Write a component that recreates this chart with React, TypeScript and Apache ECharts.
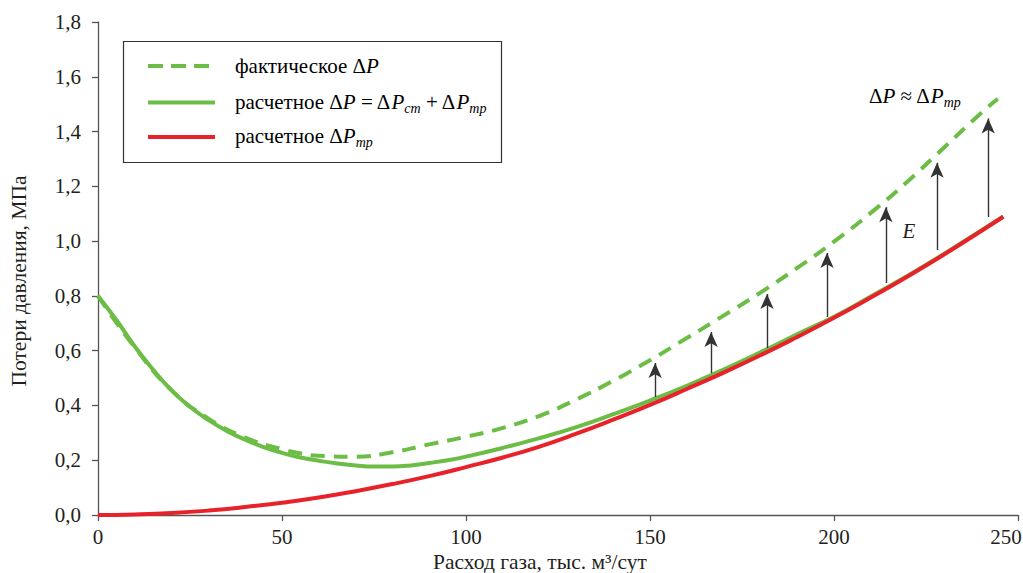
import React, { useEffect, useRef } from "react";
import * as echarts from "echarts";

// Расход газа, тыс. м3/сут (x) and pressure loss values, МПа (y)
const qActual = [0, 10, 20, 30, 40, 50, 55, 60, 70, 80, 90, 100, 110, 120, 130, 140, 150, 160, 170, 180, 190, 200, 210, 220, 230, 240, 244.5];
const actualDP = [0.8, 0.612, 0.455, 0.352, 0.283, 0.24, 0.225, 0.216, 0.213, 0.229, 0.258, 0.286, 0.318, 0.362, 0.422, 0.49, 0.565, 0.646, 0.728, 0.812, 0.902, 0.998, 1.103, 1.218, 1.343, 1.468, 1.52];

const qCalc = [0, 5, 10, 15, 20, 25, 30, 35, 40, 45, 50, 55, 60, 65, 70, 75, 80, 85, 90, 95, 100, 110, 120, 130, 140, 150, 160, 170, 180, 190, 200, 210, 220, 230, 240, 246];
const calcDP = [0.8, 0.712, 0.615, 0.53, 0.455, 0.395, 0.347, 0.307, 0.275, 0.248, 0.227, 0.21, 0.198, 0.188, 0.181, 0.177, 0.177, 0.181, 0.19, 0.2, 0.213, 0.245, 0.281, 0.321, 0.368, 0.418, 0.472, 0.531, 0.594, 0.66, 0.724, 0.798, 0.874, 0.954, 1.039, 1.09];

const qFric = [0, 10, 20, 30, 40, 50, 60, 70, 80, 90, 100, 110, 120, 130, 140, 150, 160, 170, 180, 190, 200, 210, 220, 230, 240, 246];
const fricDP = [0.0, 0.002, 0.007, 0.016, 0.029, 0.045, 0.064, 0.087, 0.113, 0.142, 0.175, 0.21, 0.25, 0.297, 0.348, 0.402, 0.46, 0.52, 0.583, 0.65, 0.72, 0.794, 0.871, 0.952, 1.037, 1.089];

// Arrows (E): x position, start value, tip value
const arrowQ = [151.4, 166.6, 181.8, 198.1, 214.1, 228, 241.9];
const arrowFrom = [0.431, 0.518, 0.61, 0.723, 0.847, 0.967, 1.088];
const arrowTo = [0.555, 0.668, 0.807, 0.957, 1.124, 1.286, 1.448];

const xTicks = { min: 0, max: 250, interval: 50 };
const yTicks = { min: 0, max: 1.8, interval: 0.2 };

const seriesNames = ["фактическое ΔP", "расчетное ΔP = ΔPст + ΔPтр", "расчетное ΔPтр"];

const FONT = "'Liberation Serif', 'Times New Roman', serif";
const GREEN = "#6cbd45";
const RED = "#e8222b";
const INK = "#231f20";

const pairs = (xs: number[], ys: number[]) => xs.map((x, i) => [x, ys[i]]);

export default function App() {
  const ref = useRef<HTMLDivElement>(null);
  useEffect(() => {
    if (!ref.current) return;
    const chart = echarts.init(ref.current, undefined, { renderer: "svg" });
    const richSub = {
      i: { fontStyle: "italic", fontSize: 21, fontFamily: FONT, color: INK, lineHeight: 26 },
      s: { fontStyle: "italic", fontSize: 14, fontFamily: FONT, color: INK, lineHeight: 15, verticalAlign: "bottom" },
      n: { fontSize: 21, fontFamily: FONT, color: INK, lineHeight: 26 },
    };
    chart.setOption({
      animation: false,
      grid: { left: 98, right: 5, top: 22, bottom: 58, containLabel: false, outerBoundsMode: "none" },
      xAxis: {
        type: "value",
        min: xTicks.min,
        max: xTicks.max,
        interval: xTicks.interval,
        splitLine: { show: false },
        axisLine: { lineStyle: { color: "#555", width: 1.3 } },
        axisTick: { length: 6, lineStyle: { color: "#555", width: 1.3 } },
        axisLabel: {
          fontFamily: FONT,
          fontSize: 21,
          color: INK,
          margin: 11,
          hideOverlap: false,
          formatter: (v: number) => (v === xTicks.max ? "{last|" + v + "}" : String(v)),
          rich: { last: { fontFamily: FONT, fontSize: 21, color: INK, padding: [0, 24, 0, 0] } },
        },
      },
      yAxis: {
        type: "value",
        min: yTicks.min,
        max: yTicks.max,
        interval: yTicks.interval,
        splitLine: { show: false },
        axisLine: { show: true, lineStyle: { color: "#555", width: 1.3 } },
        axisTick: { show: true, length: 6, lineStyle: { color: "#555", width: 1.3 } },
        axisLabel: {
          fontFamily: FONT,
          fontSize: 21,
          color: INK,
          margin: 17,
          formatter: (v: number) => v.toFixed(1).replace(".", ","),
        },
      },
      series: [
        {
          name: seriesNames[1],
          type: "line",
          data: pairs(qCalc, calcDP),
          smooth: true,
          showSymbol: false,
          lineStyle: { color: GREEN, width: 4 },
          silent: true,
          z: 2,
        },
        {
          name: seriesNames[0],
          type: "line",
          data: pairs(qActual, actualDP),
          smooth: true,
          showSymbol: false,
          lineStyle: { color: GREEN, width: 4, type: [14, 9] },
          silent: true,
          z: 3,
        },
        {
          name: seriesNames[2],
          type: "line",
          data: pairs(qFric, fricDP),
          smooth: true,
          showSymbol: false,
          lineStyle: { color: RED, width: 4 },
          silent: true,
          z: 4,
          markLine: {
            silent: true,
            symbol: ["none", "arrow"],
            symbolSize: [10, 15],
            label: { show: false },
            lineStyle: { color: "#333", width: 1.4, type: "solid" },
            itemStyle: { color: "#1a1a1a" },
            emphasis: { disabled: true },
            data: arrowQ.map((q, i) => [{ coord: [q, arrowFrom[i]] }, { coord: [q, arrowTo[i]] }]),
          },
        },
      ],
      graphic: [
        {
          type: "rect",
          shape: { x: 123.5, y: 41.5, width: 378, height: 121 },
          style: { fill: "#fff", stroke: "#333", lineWidth: 1.2 },
          z: 10,
        },
        {
          type: "line",
          shape: { x1: 148, y1: 66, x2: 215, y2: 66 },
          style: { stroke: GREEN, lineWidth: 4, lineDash: [15, 8] },
          z: 11,
        },
        {
          type: "line",
          shape: { x1: 148, y1: 102.5, x2: 215, y2: 102.5 },
          style: { stroke: GREEN, lineWidth: 4 },
          z: 11,
        },
        {
          type: "line",
          shape: { x1: 148, y1: 137, x2: 215, y2: 137 },
          style: { stroke: RED, lineWidth: 4 },
          z: 11,
        },
        {
          type: "text",
          x: 235,
          y: 66,
          z: 11,
          style: { text: "{n|фактическое Δ}{i|P}", rich: richSub, verticalAlign: "middle", align: "left" },
        },
        {
          type: "text",
          x: 235,
          y: 102,
          z: 11,
          style: {
            text: "{n|расчетное Δ}{i|P}{n| = Δ}{i|P}{s|ст}{n| + Δ}{i|P}{s|тр}",
            rich: richSub,
            verticalAlign: "middle",
            align: "left",
          },
        },
        {
          type: "text",
          x: 235,
          y: 136,
          z: 11,
          style: { text: "{n|расчетное Δ}{i|P}{s|тр}", rich: richSub, verticalAlign: "middle", align: "left" },
        },
        {
          type: "text",
          x: 869,
          y: 96,
          z: 11,
          style: { text: "{n|Δ}{i|P}{n| ≈ Δ}{i|P}{s|тр}", rich: richSub, verticalAlign: "middle", align: "left" },
        },
        {
          type: "text",
          x: 909,
          y: 231,
          z: 11,
          style: {
            text: "E",
            fontFamily: FONT,
            fontStyle: "italic",
            fontSize: 21,
            fill: INK,
            align: "center",
            verticalAlign: "middle",
          },
        },
        {
          type: "text",
          x: 540,
          y: 562,
          z: 11,
          style: {
            text: "Расход газа, тыс. м³/сут",
            fontFamily: FONT,
            fontSize: 21.5,
            fill: INK,
            align: "center",
            verticalAlign: "middle",
          },
        },
        {
          type: "text",
          x: 19,
          y: 281,
          rotation: Math.PI / 2,
          z: 11,
          style: {
            text: "Потери давления, МПа",
            fontFamily: FONT,
            fontSize: 21.5,
            fill: INK,
            align: "center",
            verticalAlign: "middle",
          },
        },
      ],
    });
    return () => chart.dispose();
  }, []);
  return (
    <div
      ref={ref}
      style={{ position: "absolute", left: 0, top: 0, width: 1023, height: 573, background: "#fff" }}
    />
  );
}
